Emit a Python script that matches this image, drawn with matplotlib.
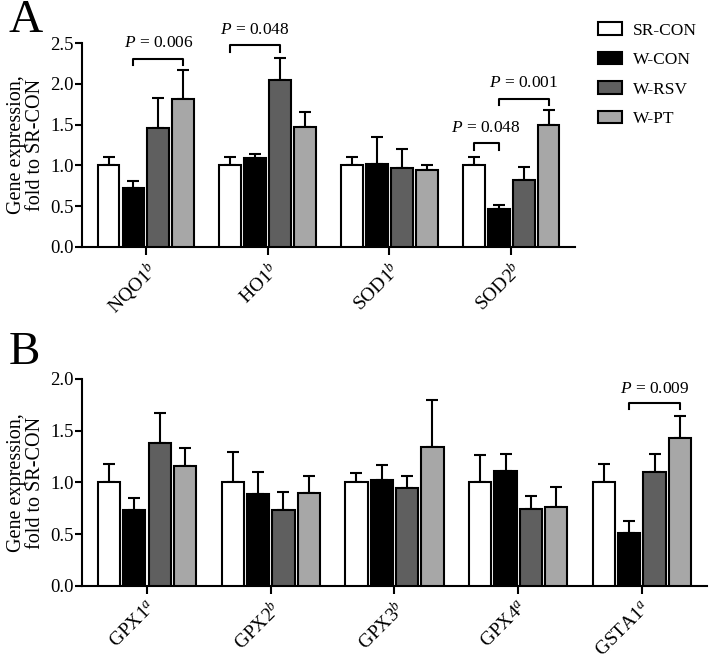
import matplotlib
matplotlib.use('Agg')
import matplotlib.pyplot as plt
from matplotlib.patches import Patch
import numpy as np

plt.rcParams['font.family'] = ['Liberation Serif', 'DejaVu Serif']
plt.rcParams['mathtext.fontset'] = 'custom'
plt.rcParams['mathtext.rm'] = 'Liberation Serif'
plt.rcParams['mathtext.it'] = 'Liberation Serif:italic'

groups = ['SR-CON', 'W-CON', 'W-RSV', 'W-PT']
colors = ['#ffffff', '#000000', '#5f5f5f', '#a7a7a7']

# panel A: antioxidant genes
genes_a = ['NQO1$^{b}$', 'HO1$^{b}$', 'SOD1$^{b}$', 'SOD2$^{b}$']
mean_a = [[1.00, 1.00, 1.00, 1.00],
          [0.72, 1.09, 1.02, 0.46],
          [1.46, 2.05, 0.97, 0.82],
          [1.82, 1.47, 0.94, 1.50]]
top_a = [[1.10, 1.10, 1.10, 1.10],
         [0.81, 1.14, 1.35, 0.51],
         [1.83, 2.32, 1.20, 0.98],
         [2.17, 1.66, 1.01, 1.68]]
# (gene, group i, group j, bracket height, label)
sig_a = [(0, 1, 3, 2.31, '$P$ = 0.006'),
         (1, 0, 2, 2.47, '$P$ = 0.048'),
         (3, 0, 1, 1.27, '$P$ = 0.048'),
         (3, 1, 3, 1.82, '$P$ = 0.001')]

# panel B: glutathione related genes
genes_b = ['GPX1$^{a}$', 'GPX2$^{b}$', 'GPX3$^{b}$', 'GPX4$^{a}$', 'GSTA1$^{a}$']
mean_b = [[1.00, 1.00, 1.00, 1.00, 1.00],
          [0.73, 0.89, 1.02, 1.11, 0.51],
          [1.38, 0.73, 0.95, 0.74, 1.10],
          [1.16, 0.90, 1.34, 0.76, 1.43]]
top_b = [[1.18, 1.29, 1.09, 1.27, 1.18],
         [0.85, 1.10, 1.17, 1.28, 0.63],
         [1.67, 0.91, 1.06, 0.87, 1.28],
         [1.33, 1.06, 1.80, 0.96, 1.64]]
sig_b = [(4, 1, 3, 1.765, '$P$ = 0.009')]

width = 0.18
pitch = 0.205


def draw_panel(ax, genes, means, tops, sigs, ymax, ystep, drop):
    x = np.arange(len(genes))
    for i in range(len(groups)):
        xs = x + (i - 1.5) * pitch
        m = np.array(means[i])
        err = np.array(tops[i]) - m
        ax.bar(xs, m, width, color=colors[i], edgecolor='black', linewidth=1.5, zorder=3)
        ax.errorbar(xs, m, yerr=[np.zeros_like(err), err], fmt='none', ecolor='black',
                    elinewidth=1.5, capsize=4.5, capthick=1.5, zorder=2)
    for g, i, j, h, lab in sigs:
        x1 = g + (i - 1.5) * pitch
        x2 = g + (j - 1.5) * pitch
        ax.plot([x1, x1, x2, x2], [h - drop, h, h, h - drop], color='black', lw=1.5, clip_on=False)
        ax.text((x1 + x2) / 2, h + drop * 1.1, lab, ha='center', va='bottom', fontsize=12.5, clip_on=False)
    ax.set_xlim(-0.525, len(genes) - 0.475)
    ax.set_ylim(0, ymax)
    ax.set_yticks(np.arange(0, ymax + 0.01, ystep))
    ax.set_yticklabels([f'{v:.1f}' for v in np.arange(0, ymax + 0.01, ystep)], fontsize=13.5)
    ax.set_xticks(x)
    ax.set_xticklabels(genes, rotation=45, ha='right', rotation_mode='anchor', fontsize=14)
    ax.spines['top'].set_visible(False)
    ax.spines['right'].set_visible(False)
    ax.spines['left'].set_linewidth(1.5)
    ax.spines['bottom'].set_linewidth(1.5)
    ax.tick_params(axis='y', width=1.5, length=5, direction='out', pad=1)
    ax.tick_params(axis='x', width=1.5, length=6, direction='out', pad=3)
    ax.set_ylabel('Gene expression,\nfold to SR-CON', fontsize=14.5, linespacing=1.0, labelpad=4)


fig = plt.figure(figsize=(7.09, 6.59), dpi=100)
ax1 = fig.add_axes([0.1157, 0.6252, 0.811 - 0.1157, 0.9347 - 0.6252])
ax2 = fig.add_axes([0.1157, 0.1108, 0.997 - 0.1157, 0.4249 - 0.1108])

draw_panel(ax1, genes_a, mean_a, top_a, sig_a, 2.5, 0.5, 0.08)
draw_panel(ax2, genes_b, mean_b, top_b, sig_b, 2.0, 0.5, 0.055)

fig.text(0.012, 1.0, 'A', fontsize=34, ha='left', va='top')
fig.text(0.012, 0.497, 'B', fontsize=34, ha='left', va='top')

handles = [Patch(facecolor=c, edgecolor='black', linewidth=1.5) for c in colors]
fig.legend(handles, groups, loc='upper left', bbox_to_anchor=(0.844, 0.966), frameon=False,
           borderpad=0, borderaxespad=0, fontsize=12.5, handlelength=1.38, handleheight=0.7,
           labelspacing=0.77, handletextpad=0.6)

fig.savefig('out.png', dpi=100)
